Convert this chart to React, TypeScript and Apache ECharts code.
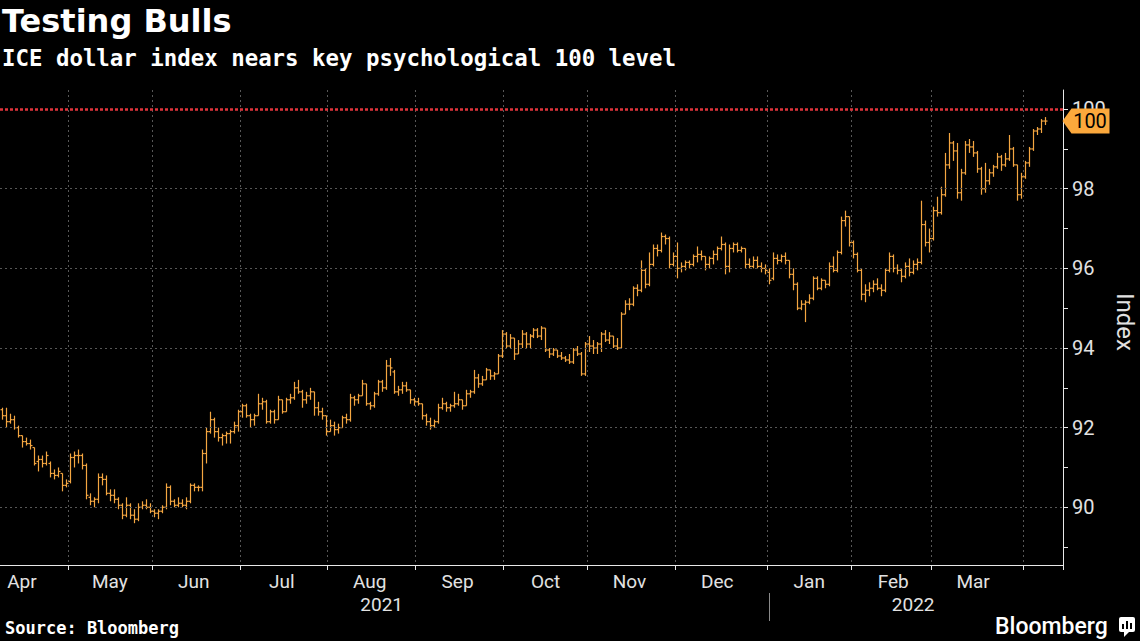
import React, { useEffect, useRef } from "react";
import * as echarts from "echarts";

// ---------- categories ----------
const START_DATE = "2021-04-08"; // first weekday shown
const CATEGORY_COUNT = 266; // weekdays on the axis (through 2022-04-14)
const MONTH_NAMES = ["Jan", "Feb", "Mar", "Apr", "May", "Jun", "Jul", "Aug", "Sep", "Oct", "Nov", "Dec"];
const GRID_LEVELS = [90, 92, 94, 96, 98];
const KEY_LEVEL = 100;

// ---------- daily bars [open, high, low, close] ----------
const apr21 = [
  [92.45, 92.5, 92.2, 92.3], [92.3, 92.5, 92.0, 92.15], [92.15, 92.35, 92.1, 92.2], [92.2, 92.3, 91.95, 92.0],
  [92.0, 92.05, 91.75, 91.8], [91.8, 91.8, 91.5, 91.65], [91.65, 91.75, 91.55, 91.6], [91.6, 91.7, 91.45, 91.55],
  [91.5, 91.5, 91.05, 91.1], [91.15, 91.3, 90.9, 91.2], [91.2, 91.3, 91.0, 91.1], [91.1, 91.4, 91.05, 91.3],
  [91.1, 91.15, 90.75, 90.85], [90.85, 90.95, 90.7, 90.8], [90.8, 91.0, 90.75, 90.9], [90.85, 90.85, 90.4, 90.55],
  [90.55, 90.7, 90.5, 90.6],
];
const may21 = [
  [90.65, 91.35, 90.6, 91.25], [91.25, 91.4, 91.0, 91.3], [91.3, 91.45, 91.1, 91.3], [91.3, 91.35, 90.95, 91.05],
  [91.05, 91.1, 90.2, 90.3], [90.25, 90.35, 90.05, 90.15], [90.15, 90.25, 90.0, 90.2], [90.2, 90.85, 90.1, 90.75],
  [90.75, 90.85, 90.55, 90.7], [90.7, 90.8, 90.3, 90.35], [90.35, 90.45, 90.15, 90.3], [90.3, 90.45, 90.1, 90.2],
  [90.2, 90.25, 89.95, 90.05], [90.05, 90.1, 89.7, 89.8], [89.8, 90.25, 89.75, 90.05], [90.05, 90.1, 89.7, 89.8],
  [89.8, 89.95, 89.6, 89.7], [89.7, 90.1, 89.65, 90.0], [90.0, 90.15, 89.95, 90.05], [90.05, 90.2, 89.95, 90.0],
  [90.0, 90.1, 89.85, 89.9],
];
const jun21 = [
  [89.9, 89.95, 89.75, 89.85], [89.85, 89.95, 89.7, 89.9], [89.9, 90.05, 89.85, 90.0], [90.0, 90.6, 89.95, 90.5],
  [90.5, 90.55, 90.05, 90.15], [90.15, 90.2, 90.0, 90.05], [90.05, 90.25, 90.0, 90.1], [90.1, 90.2, 90.0, 90.05],
  [90.05, 90.25, 89.95, 90.15], [90.15, 90.6, 90.1, 90.55], [90.55, 90.6, 90.4, 90.5], [90.5, 90.55, 90.4, 90.5],
  [90.5, 91.45, 90.4, 91.35], [91.35, 92.0, 91.1, 91.9], [91.9, 92.4, 91.85, 92.2], [92.2, 92.25, 91.75, 91.9],
  [91.9, 92.0, 91.65, 91.75], [91.75, 91.85, 91.55, 91.8], [91.8, 91.9, 91.6, 91.85], [91.85, 91.95, 91.6, 91.9],
  [91.9, 92.15, 91.85, 92.05], [92.05, 92.45, 91.9, 92.4],
];
const jul21 = [
  [92.4, 92.6, 92.25, 92.55], [92.55, 92.6, 92.25, 92.3], [92.3, 92.35, 92.0, 92.2], [92.2, 92.35, 92.05, 92.3],
  [92.3, 92.85, 92.3, 92.6], [92.6, 92.75, 92.45, 92.65], [92.65, 92.7, 92.1, 92.15], [92.15, 92.45, 92.1, 92.4],
  [92.4, 92.45, 92.1, 92.2], [92.2, 92.8, 92.2, 92.7], [92.7, 92.7, 92.35, 92.4], [92.4, 92.75, 92.4, 92.7],
  [92.7, 92.85, 92.6, 92.75], [92.75, 93.15, 92.7, 93.0], [93.0, 93.2, 92.85, 92.9], [92.9, 92.95, 92.5, 92.7],
  [92.7, 92.9, 92.6, 92.8], [92.8, 93.0, 92.7, 92.9], [92.9, 92.9, 92.3, 92.5], [92.5, 92.65, 92.3, 92.4],
  [92.4, 92.5, 92.2, 92.3], [92.3, 92.3, 91.8, 91.9],
];
const aug21 = [
  [91.9, 92.2, 91.9, 92.05], [92.05, 92.15, 91.8, 91.95], [91.95, 92.1, 91.85, 92.0], [92.0, 92.3, 92.0, 92.25],
  [92.25, 92.35, 92.1, 92.2], [92.2, 92.85, 92.15, 92.75], [92.75, 92.8, 92.55, 92.7], [92.7, 92.85, 92.6, 92.8],
  [92.8, 93.2, 92.8, 93.1], [93.1, 93.1, 92.55, 92.6], [92.6, 92.65, 92.45, 92.55], [92.55, 92.9, 92.5, 92.85],
  [92.85, 93.2, 92.8, 93.15], [93.15, 93.2, 92.9, 93.0], [93.0, 93.7, 92.95, 93.55], [93.55, 93.75, 93.3, 93.5],
  [93.4, 93.45, 92.85, 92.9], [92.9, 93.05, 92.8, 92.95], [92.95, 93.15, 92.85, 93.05], [93.05, 93.15, 92.9, 92.95],
  [92.95, 92.95, 92.6, 92.7], [92.7, 92.75, 92.55, 92.65],
];
const sep21 = [
  [92.65, 92.75, 92.55, 92.6], [92.6, 92.6, 92.2, 92.3], [92.3, 92.35, 92.05, 92.15], [92.15, 92.25, 91.95, 92.05],
  [92.05, 92.2, 92.0, 92.15], [92.15, 92.6, 92.1, 92.5], [92.5, 92.75, 92.45, 92.6], [92.6, 92.65, 92.4, 92.5],
  [92.5, 92.6, 92.4, 92.55], [92.55, 92.9, 92.5, 92.6], [92.6, 92.85, 92.55, 92.7], [92.7, 92.7, 92.45, 92.55],
  [92.55, 92.95, 92.55, 92.85], [92.85, 92.95, 92.75, 92.9], [92.9, 93.45, 92.85, 93.25], [93.25, 93.35, 93.0, 93.1],
  [93.1, 93.3, 93.05, 93.2], [93.2, 93.5, 93.2, 93.45], [93.45, 93.45, 93.2, 93.3], [93.3, 93.4, 93.2, 93.35],
  [93.35, 93.85, 93.35, 93.8], [93.8, 94.45, 93.75, 94.35],
];
const oct21 = [
  [94.35, 94.4, 94.0, 94.05], [94.05, 94.35, 94.0, 94.25], [94.25, 94.25, 93.7, 93.85], [93.85, 94.2, 93.85, 94.1],
  [94.1, 94.45, 94.0, 94.35], [94.35, 94.4, 94.0, 94.1], [94.1, 94.35, 94.0, 94.3], [94.3, 94.5, 94.25, 94.45],
  [94.45, 94.5, 94.25, 94.3], [94.3, 94.55, 94.2, 94.5], [94.5, 94.5, 93.9, 93.95], [93.95, 94.0, 93.75, 93.85],
  [93.85, 94.0, 93.8, 93.95], [93.95, 93.95, 93.75, 93.8], [93.8, 93.9, 93.7, 93.75], [93.75, 93.8, 93.65, 93.7],
  [93.7, 93.85, 93.6, 93.65], [93.65, 94.0, 93.6, 93.95], [93.95, 94.05, 93.8, 93.85], [93.85, 93.9, 93.3, 93.35],
  [93.35, 94.15, 93.3, 94.1],
];
const nov21 = [
  [94.1, 94.3, 93.9, 94.05], [94.05, 94.2, 93.85, 94.0], [94.0, 94.15, 93.85, 94.1], [94.1, 94.4, 93.9, 94.35],
  [94.35, 94.45, 94.15, 94.2], [94.2, 94.4, 94.1, 94.3], [94.3, 94.3, 94.0, 94.05], [94.05, 94.25, 93.95, 94.0],
  [94.0, 94.9, 94.0, 94.85], [94.85, 95.2, 94.85, 95.1], [95.1, 95.25, 94.95, 95.1], [95.1, 95.55, 95.05, 95.5],
  [95.5, 95.6, 95.3, 95.45], [95.45, 96.2, 95.4, 95.95], [95.95, 96.0, 95.5, 95.6], [95.6, 96.4, 95.55, 96.1],
  [96.1, 96.6, 96.05, 96.5], [96.5, 96.6, 96.3, 96.45], [96.45, 96.9, 96.4, 96.8], [96.8, 96.85, 96.6, 96.75],
  [96.75, 96.8, 96.0, 96.1], [96.1, 96.4, 96.05, 96.3],
];
const dec21 = [
  [96.3, 96.65, 95.75, 96.0], [96.0, 96.15, 95.9, 96.05], [96.05, 96.2, 95.95, 96.15], [96.15, 96.2, 96.0, 96.1],
  [96.1, 96.35, 96.05, 96.3], [96.3, 96.55, 96.15, 96.35], [96.35, 96.45, 96.2, 96.3], [96.3, 96.3, 95.95, 96.1],
  [96.1, 96.3, 96.0, 96.25], [96.25, 96.45, 96.1, 96.35], [96.35, 96.55, 96.2, 96.5], [96.5, 96.8, 96.45, 96.6],
  [96.6, 96.65, 95.85, 96.05], [96.05, 96.6, 95.9, 96.5], [96.5, 96.65, 96.4, 96.6], [96.6, 96.65, 96.4, 96.45],
  [96.45, 96.55, 96.4, 96.5], [96.5, 96.5, 96.0, 96.1], [96.1, 96.25, 96.0, 96.05], [96.05, 96.3, 96.0, 96.2],
  [96.2, 96.3, 96.0, 96.05], [96.05, 96.15, 95.9, 96.0], [96.0, 96.1, 95.85, 95.95],
];
const jan22 = [
  [95.9, 96.0, 95.6, 95.7], [95.75, 96.4, 95.7, 96.25], [96.25, 96.35, 96.1, 96.2], [96.2, 96.35, 96.15, 96.3],
  [96.3, 96.4, 96.1, 96.2], [96.2, 96.2, 95.75, 95.85], [95.85, 96.0, 95.45, 95.6], [95.6, 95.65, 94.95, 95.0],
  [95.0, 95.2, 94.95, 95.1], [95.1, 95.2, 94.65, 95.15], [95.15, 95.35, 95.1, 95.25], [95.25, 95.8, 95.2, 95.75],
  [95.75, 95.8, 95.45, 95.5], [95.5, 95.75, 95.45, 95.7], [95.7, 95.7, 95.5, 95.6], [95.6, 96.15, 95.55, 96.05],
  [96.05, 96.3, 95.9, 95.95], [95.95, 96.45, 95.9, 96.4], [96.4, 97.3, 96.35, 97.2], [97.2, 97.45, 97.05, 97.3],
  [97.3, 97.3, 96.55, 96.65],
];
const feb22 = [
  [96.65, 96.7, 96.25, 96.35], [96.35, 96.4, 95.9, 95.95], [95.95, 96.0, 95.2, 95.35], [95.35, 95.6, 95.15, 95.45],
  [95.45, 95.65, 95.3, 95.5], [95.5, 95.7, 95.4, 95.6], [95.6, 95.75, 95.45, 95.5], [95.5, 95.6, 95.3, 95.45],
  [95.45, 96.0, 95.4, 95.95], [95.95, 96.4, 95.9, 96.3], [96.3, 96.35, 95.9, 96.0], [96.0, 96.1, 95.85, 95.95],
  [95.95, 96.0, 95.65, 95.8], [95.8, 96.15, 95.75, 96.05], [96.05, 96.25, 95.8, 95.9], [95.9, 96.2, 95.85, 96.1],
  [96.1, 96.25, 95.95, 96.15], [96.15, 97.7, 96.1, 97.1], [97.1, 97.2, 96.55, 96.65], [96.65, 97.0, 96.4, 96.75],
];
const mar22 = [
  [96.75, 97.55, 96.7, 97.45], [97.45, 97.8, 97.3, 97.4], [97.4, 98.05, 97.35, 97.85], [97.85, 98.9, 97.8, 98.6],
  [98.6, 99.4, 98.5, 99.15], [99.15, 99.2, 98.7, 98.95], [98.95, 99.15, 97.75, 97.9], [97.9, 98.5, 97.7, 98.4],
  [98.4, 99.2, 98.35, 99.1], [99.1, 99.25, 98.9, 99.05], [99.05, 99.2, 98.8, 98.9], [98.9, 98.95, 98.4, 98.5],
  [98.5, 98.55, 97.85, 98.0], [98.0, 98.65, 97.9, 98.2], [98.2, 98.5, 98.1, 98.4], [98.4, 98.6, 98.3, 98.55],
  [98.55, 98.9, 98.5, 98.8], [98.8, 98.85, 98.45, 98.6], [98.6, 98.9, 98.55, 98.75], [98.75, 99.35, 98.7, 99.0],
  [99.0, 99.05, 98.55, 98.6], [98.6, 98.6, 97.7, 97.85], [97.85, 98.4, 97.75, 98.3],
];
const apr22 = [
  [98.3, 98.7, 98.25, 98.65], [98.65, 99.05, 98.55, 99.0], [99.0, 99.5, 98.95, 99.45], [99.45, 99.55, 99.35, 99.5],
  [99.5, 99.75, 99.4, 99.7], [99.7, 99.8, 99.6, 99.7],
];

const MONTHLY_BARS = [apr21, may21, jun21, jul21, aug21, sep21, oct21, nov21, dec21, jan22, feb22, mar22, apr22];

// ---------- helpers ----------
function weekdayDates(start: string, n: number): string[] {
  const out: string[] = [];
  const d = new Date(start + "T00:00:00Z");
  while (out.length < n) {
    const wd = d.getUTCDay();
    if (wd !== 0 && wd !== 6) out.push(d.toISOString().slice(0, 10));
    d.setUTCDate(d.getUTCDate() + 1);
  }
  return out;
}
const yearOf = (s: string) => Number(s.slice(0, 4));
const monthOf = (s: string) => Number(s.slice(5, 7)) - 1;
const dayOf = (s: string) => Number(s.slice(8, 10));

const BAR_COLOR = "#f4a641";
const GRID_COLOR = "#575757";
const AXIS_COLOR = "#e8e8e8";
const LABEL_COLOR = "#e2e2e2";

export default function App() {
  const ref = useRef<HTMLDivElement>(null);

  useEffect(() => {
    if (!ref.current) return;
    const chart = echarts.init(ref.current, undefined, { renderer: "svg" });

    const dates = weekdayDates(START_DATE, CATEGORY_COUNT);
    const bars = MONTHLY_BARS.flat();
    const ohlc = bars.map((b, i) => [i, b[0], b[1], b[2], b[3]]);
    const closes = bars.map((b) => b[3]);
    const lastClose = closes[closes.length - 1];

    const isMonthStart = (i: number) => i > 0 && monthOf(dates[i]) !== monthOf(dates[i - 1]);
    const isMonthLabel = (i: number) =>
      dayOf(dates[i]) >= 15 && (i === 0 || monthOf(dates[i - 1]) !== monthOf(dates[i]) || dayOf(dates[i - 1]) < 15);
    const isYearStart = (i: number) => i > 0 && yearOf(dates[i]) !== yearOf(dates[i - 1]);
    const yearMid = new Set<number>();
    const spans: Record<number, [number, number]> = {};
    dates.forEach((d, i) => {
      const y = yearOf(d);
      if (!spans[y]) spans[y] = [i, i];
      else spans[y][1] = i;
    });
    Object.values(spans).forEach(([a, b]) => yearMid.add(Math.floor((a + b) / 2)));

    const option: any = {
      animation: false,
      backgroundColor: "#000",
      grid: { left: 0, right: 77, top: 90, bottom: 76, containLabel: false, outerBoundsMode: "none" },
      xAxis: [
        {
          type: "category",
          data: dates,
          boundaryGap: true,
          position: "bottom",
          axisLine: { show: true, lineStyle: { color: AXIS_COLOR, width: 1 } },
          axisTick: { show: true, interval: (i: number) => isMonthStart(i), length: 5, lineStyle: { color: AXIS_COLOR } },
          splitLine: { show: true, interval: (i: number) => isMonthStart(i), lineStyle: { color: GRID_COLOR, type: [2, 3], width: 1 } },
          axisLabel: {
            interval: (i: number) => isMonthLabel(i),
            formatter: (v: string) => MONTH_NAMES[monthOf(v)],
            color: LABEL_COLOR,
            fontFamily: "Roboto",
            fontSize: 19,
            margin: 7,
          },
        },
        {
          type: "category",
          data: dates,
          boundaryGap: true,
          position: "bottom",
          offset: 28,
          axisLine: { show: false },
          axisTick: { show: true, alignWithLabel: true, interval: (i: number) => isYearStart(i), length: 28, lineStyle: { color: "#8a8a8a" } },
          splitLine: { show: false },
          axisLabel: {
            interval: (i: number) => yearMid.has(i),
            formatter: (v: string) => String(yearOf(v)),
            color: LABEL_COLOR,
            fontFamily: "Roboto",
            fontSize: 19,
            margin: 2,
          },
        },
      ],
      yAxis: {
        type: "value",
        position: "right",
        min: 88.55,
        max: 100.48,
        splitNumber: 12,
        axisLine: { show: true, lineStyle: { color: AXIS_COLOR, width: 1 } },
        axisTick: { show: true, length: 5, lineStyle: { color: AXIS_COLOR } },
        splitLine: { show: false },
        axisLabel: {
          showMinLabel: false,
          showMaxLabel: false,
          formatter: (v: number) => (Math.abs(v % 2) < 1e-6 ? String(v) : ""),
          color: LABEL_COLOR,
          fontFamily: "Roboto",
          fontSize: 20,
          margin: 9,
        },
      },
      series: [
        {
          type: "line",
          data: closes,
          symbol: "none",
          silent: true,
          clip: false,
          z: 1,
          lineStyle: { opacity: 0 },
          markLine: {
            silent: true,
            symbol: ["none", "none"],
            label: { show: false },
            data: [
              ...GRID_LEVELS.map((v) => ({ yAxis: v, lineStyle: { color: GRID_COLOR, type: [2, 3], width: 1 } })),
              { yAxis: KEY_LEVEL, lineStyle: { color: "#e0343c", type: [3, 2], width: 2.5 } },
            ],
          },
          markPoint: {
            silent: true,
            symbol: "path://M0,12.5 L9,0 L47,0 L47,25 L9,25 Z",
            symbolSize: [47, 25],
            symbolKeepAspect: false,
            symbolOffset: [25, 0],
            itemStyle: { color: "#fba83c" },
            label: {
              show: true,
              position: "inside",
              offset: [4, 0],
              formatter: () => String(Math.round(lastClose)),
              color: "#000",
              fontFamily: "Roboto",
              fontSize: 20,
            },
            data: [{ coord: [dates[CATEGORY_COUNT - 1], lastClose] }],
          },
        },
        {
          type: "custom",
          data: ohlc,
          encode: { x: 0, y: [1, 2, 3, 4] },
          silent: true,
          z: 3,
          renderItem: (params: any, api: any) => {
            const xi = api.value(0);
            const pO = api.coord([xi, api.value(1)]);
            const pH = api.coord([xi, api.value(2)]);
            const pL = api.coord([xi, api.value(3)]);
            const pC = api.coord([xi, api.value(4)]);
            const band = api.size([1, 0])[0];
            const half = Math.max(1.5, band * 0.5);
            const cx = Math.round(pH[0]) + 0.5;
            const style = { stroke: BAR_COLOR, lineWidth: 1.2 };
            return {
              type: "group",
              children: [
                { type: "line", shape: { x1: cx, y1: pH[1], x2: cx, y2: pL[1] }, style },
                { type: "line", shape: { x1: cx - half, y1: pO[1], x2: cx, y2: pO[1] }, style },
                { type: "line", shape: { x1: cx, y1: pC[1], x2: cx + half, y2: pC[1] }, style },
              ],
            };
          },
        },
      ],
      graphic: [
        {
          type: "text",
          x: 2,
          y: 21,
          style: { text: "Testing Bulls", fill: "#fff", fontFamily: "DejaVu Sans", fontWeight: "bold", fontSize: 32, verticalAlign: "middle" },
        },
        {
          type: "text",
          x: 2,
          y: 58,
          style: {
            text: "ICE dollar index nears key psychological 100 level",
            fill: "#fff",
            fontFamily: "DejaVu Sans Mono",
            fontWeight: "bold",
            fontSize: 22.4,
            verticalAlign: "middle",
          },
        },
        {
          type: "text",
          x: 1125,
          y: 322,
          rotation: -Math.PI / 2,
          style: { text: "Index", fill: LABEL_COLOR, fontFamily: "Roboto", fontSize: 24, align: "center", verticalAlign: "middle" },
        },
        {
          type: "text",
          x: 5,
          y: 628,
          style: { text: "Source: Bloomberg", fill: "#fff", fontFamily: "DejaVu Sans Mono", fontWeight: "bold", fontSize: 17, verticalAlign: "middle" },
        },
        {
          type: "text",
          x: 995,
          y: 626,
          style: { text: "Bloomberg", fill: "#fff", fontFamily: "Roboto", fontWeight: 500, fontSize: 23, verticalAlign: "middle" },
        },
        { type: "rect", shape: { x: 1119, y: 617, width: 16, height: 15, r: 2 }, style: { fill: "#fff" } },
        { type: "polygon", shape: { points: [[1124, 631], [1130, 631], [1124, 637]] }, style: { fill: "#fff" } },
        { type: "rect", shape: { x: 1122, y: 624, width: 2, height: 5 }, style: { fill: "#000" } },
        { type: "rect", shape: { x: 1126, y: 621, width: 2, height: 8 }, style: { fill: "#000" } },
        { type: "rect", shape: { x: 1130, y: 623, width: 2, height: 6 }, style: { fill: "#000" } },
      ],
    };

    chart.setOption(option);
    return () => chart.dispose();
  }, []);

  return <div ref={ref} style={{ position: "fixed", left: 0, top: 0, width: 1140, height: 641, background: "#000" }} />;
}
